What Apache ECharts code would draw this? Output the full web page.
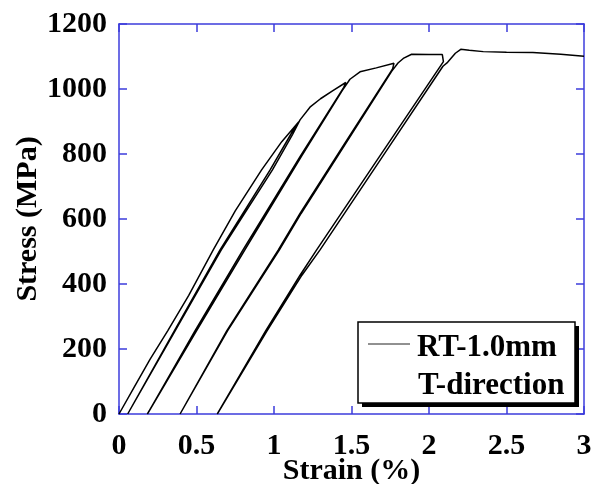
<!DOCTYPE html>
<html>
<head>
<meta charset="utf-8">
<script src="https://cdn.jsdelivr.net/npm/echarts@6/dist/echarts.min.js"></script>
<style>
  html, body { margin: 0; padding: 0; background: #fff; }
  #chart { width: 598px; height: 484px; }
</style>
</head>
<body>
<div id="chart"></div>
<script>
// tick values
const xTicks = [0, 0.5, 1, 1.5, 2, 2.5, 3];
const yTicks = [0, 200, 400, 600, 800, 1000, 1200];

// loading / unloading path, [strain %, stress MPa]
const initialLoad = [[0, 0], [0.1, 84], [0.2, 168], [0.314, 256], [0.45, 365], [0.608, 505], [0.75, 625], [0.92, 751], [1.05, 838], [1.16, 899]];
const unload1 = [[1.16, 899], [1.12, 870], [0.975, 751], [0.652, 505], [0.357, 256], [0.056, 0]];
const reload1 = [[0.056, 0], [0.362, 256], [0.66, 505], [0.99, 751], [1.12, 860], [1.168, 905], [1.232, 944], [1.3, 970], [1.38, 995], [1.463, 1020]];
const unload2 = [[1.463, 1020], [1.45, 1005], [1.168, 792], [0.8, 505], [0.49, 256], [0.183, 0]];
const reload2 = [[0.183, 0], [0.5, 256], [0.812, 505], [1.18, 795], [1.44, 995], [1.49, 1030], [1.555, 1053], [1.66, 1065], [1.774, 1079]];
const unload3 = [[1.774, 1079], [1.765, 1062], [1.45, 828], [1.168, 617], [1.028, 505], [0.695, 256], [0.394, 0]];
const reload3 = [[0.394, 0], [0.7, 256], [1.035, 505], [1.175, 617], [1.76, 1055], [1.8, 1080], [1.834, 1094], [1.888, 1107], [2.0, 1106], [2.086, 1106]];
const unload4 = [[2.086, 1106], [2.093, 1084], [1.68, 792], [1.275, 505], [1.168, 427], [0.946, 256], [0.634, 0]];
const reload4 = [[0.634, 0], [0.955, 256], [1.18, 427], [1.297, 505], [1.7, 792], [2.09, 1070], [2.12, 1082], [2.17, 1110], [2.205, 1122], [2.26, 1119], [2.35, 1115], [2.5, 1113], [2.67, 1112], [2.85, 1107], [3.0, 1101]];

const path = [].concat(initialLoad, unload1, reload1, unload2, reload2, unload3, reload3, unload4, reload4);

const font = "'Liberation Serif', 'Times New Roman', serif";
const blue = "#3c3cdc";

function axisBase(ticks, showLabel, margin) {
  return {
    type: "value",
    min: ticks[0],
    max: ticks[ticks.length - 1],
    interval: ticks[1] - ticks[0],
    axisLine: { show: true, onZero: false, lineStyle: { color: blue, width: 1.5 } },
    axisTick: { show: true, inside: true, length: 8, lineStyle: { color: blue, width: 1.5 } },
    axisLabel: {
      show: showLabel,
      margin: margin || 8,
      color: "#000",
      fontFamily: font,
      fontWeight: "bold",
      fontSize: 30,
      formatter: (v) => String(v),
    },
    splitLine: { show: false },
  };
}

const nameStyle = { color: "#000", fontFamily: font, fontWeight: "bold", fontSize: 30 };

const chart = echarts.init(document.getElementById("chart"));

chart.setOption({
  animation: false,
  grid: { left: 119, right: 14, top: 24, bottom: 70, outerBoundsMode: "none", containLabel: false },
  xAxis: [
    Object.assign(axisBase(xTicks, true, 17), {
      position: "bottom",
      name: "Strain (%)",
      nameLocation: "middle",
      nameGap: 42,
      nameMoveOverlap: false,
      nameTextStyle: nameStyle,
    }),
    Object.assign(axisBase(xTicks, false), { position: "top" }),
  ],
  yAxis: [
    Object.assign(axisBase(yTicks, true, 12), {
      position: "left",
      name: "Stress (MPa)",
      nameLocation: "middle",
      nameGap: 76,
      nameMoveOverlap: false,
      nameTextStyle: nameStyle,
    }),
    Object.assign(axisBase(yTicks, false), { position: "right" }),
  ],
  series: [
    {
      name: "RT-1.0mm",
      type: "line",
      data: path,
      showSymbol: false,
      lineStyle: { color: "#000", width: 1.5 },
      z: 3,
    },
  ],
  graphic: [
    {
      type: "rect",
      shape: { x: 362, y: 326, width: 217, height: 81 },
      style: { fill: "#000" },
      z: 10,
    },
    {
      type: "rect",
      shape: { x: 358, y: 322, width: 217, height: 81 },
      style: { fill: "#fff", stroke: "#000", lineWidth: 1.5 },
      z: 11,
    },
    {
      type: "line",
      shape: { x1: 368, y1: 344, x2: 410, y2: 344 },
      style: { stroke: "#222", lineWidth: 1 },
      z: 12,
    },
    {
      type: "text",
      x: 417,
      y: 348,
      style: { text: "RT-1.0mm", fill: "#000", font: "bold 31px " + font, textVerticalAlign: "middle" },
      z: 12,
    },
    {
      type: "text",
      x: 418,
      y: 386,
      style: { text: "T-direction", fill: "#000", font: "bold 31px " + font, textVerticalAlign: "middle" },
      z: 12,
    },
  ],
});
</script>
</body>
</html>
